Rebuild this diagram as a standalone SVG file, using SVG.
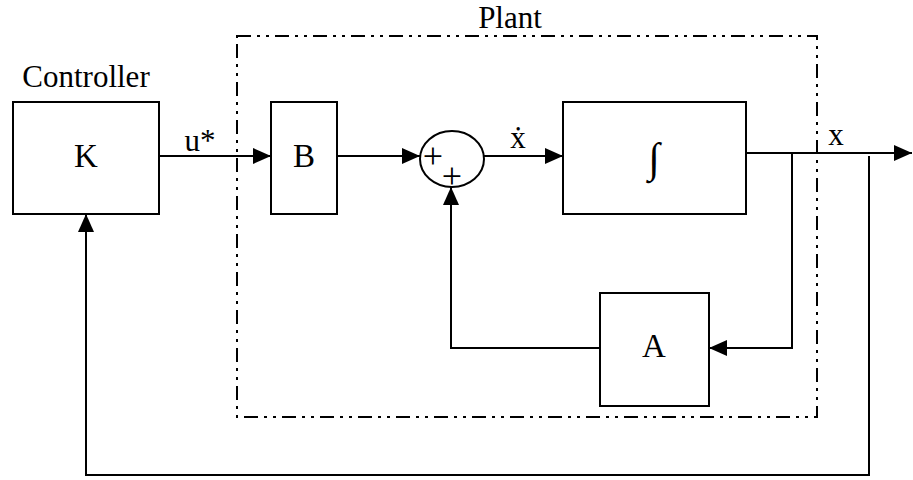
<svg xmlns="http://www.w3.org/2000/svg" width="913" height="480" viewBox="0 0 913 480">
<style>
.box{fill:#fff;stroke:#000;stroke-width:2}
.ln{fill:none;stroke:#000;stroke-width:2}
.lbl{font-family:"Liberation Serif","Times New Roman",serif;font-size:31px;fill:#000;text-anchor:middle}
.big{font-size:33px}
.pl{font-size:36px}
.border{fill:none;stroke:#000;stroke-width:2;stroke-dasharray:14 6 3 6 3 6}
</style>
<defs>
<marker id="ah" markerUnits="userSpaceOnUse" markerWidth="18" markerHeight="16" refX="18" refY="8" orient="auto">
<path d="M0,0 L18,8 L0,16 Z" fill="#000"/>
</marker>
</defs>
<g id="plant">
<rect class="border" x="237" y="36" width="580" height="381"/>
<text class="lbl" x="510" y="28">Plant</text>
</g>
<g id="controller">
<rect class="box" x="13" y="102" width="146" height="112"/>
<text class="lbl big" x="86" y="167">K</text>
<text class="lbl" x="86" y="87">Controller</text>
</g>
<g id="B">
<rect class="box" x="271" y="102" width="66" height="112"/>
<text class="lbl big" x="304" y="167">B</text>
</g>
<g id="sum">
<ellipse class="box" cx="452" cy="159" rx="32" ry="28"/>
<text class="lbl pl" x="433" y="168">+</text>
<text class="lbl pl" x="452" y="188">+</text>
</g>
<g id="integrator">
<rect class="box" x="563" y="102" width="183" height="112"/>
<text class="lbl" x="654" y="172" style="font-size:42px">∫</text>
</g>
<g id="A">
<rect class="box" x="600" y="293" width="109" height="113"/>
<text class="lbl big" x="654" y="357">A</text>
</g>
<g id="connectors">
<path class="ln" d="M159,156 H271" marker-end="url(#ah)"/>
<path class="ln" d="M337,156 H420" marker-end="url(#ah)"/>
<path class="ln" d="M484,156 H563" marker-end="url(#ah)"/>
<path class="ln" d="M746,153 H912" marker-end="url(#ah)"/>
<path class="ln" d="M792,153 V348 H709" marker-end="url(#ah)"/>
<path class="ln" d="M600,348 H451 V187" marker-end="url(#ah)"/>
<path class="ln" d="M869,156 V475 H86 V214" marker-end="url(#ah)"/>
<text class="lbl" x="200" y="151">u*</text>
<text class="lbl" x="518" y="148">ẋ</text>
<text class="lbl" x="836" y="145">x</text>
</g>
</svg>
